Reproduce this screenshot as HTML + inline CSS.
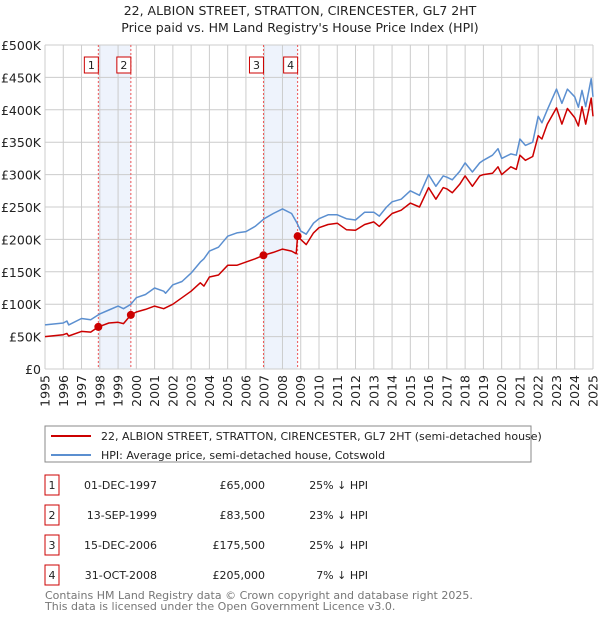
<!DOCTYPE html>
<html><head><meta charset="utf-8"><style>
body{margin:0;background:#fff;font-family:"Liberation Sans","DejaVu Sans",sans-serif;}
svg text{font-family:"DejaVu Sans","Liberation Sans",sans-serif;}
</style></head><body>
<svg id="c" width="600" height="620" viewBox="0 0 600 620" xmlns="http://www.w3.org/2000/svg">
<text x="300" y="15" text-anchor="middle" font-size="12.5" fill="#222">22, ALBION STREET, STRATTON, CIRENCESTER, GL7 2HT</text>
<text x="300" y="32" text-anchor="middle" font-size="12.5" fill="#222">Price paid vs. HM Land Registry's House Price Index (HPI)</text>
<g id="grid"></g><g id="marks"></g><g id="axes"></g>
<rect x="45" y="426" width="486" height="36" fill="#fff" stroke="#888"/>
<line x1="51" y1="436" x2="91" y2="436" stroke="#cc0000" stroke-width="2"/>
<text x="101" y="440" font-size="11" fill="#222">22, ALBION STREET, STRATTON, CIRENCESTER, GL7 2HT (semi-detached house)</text>
<line x1="51" y1="455" x2="91" y2="455" stroke="#5b8fd0" stroke-width="2"/>
<text x="101" y="459" font-size="11" fill="#222">HPI: Average price, semi-detached house, Cotswold</text>
<g id="table"></g>
<text x="45" y="599" font-size="11" fill="#777">Contains HM Land Registry data © Crown copyright and database right 2025.</text>
<text x="45" y="610" font-size="11" fill="#777">This data is licensed under the Open Government Licence v3.0.</text>
</svg>
<script>
const hpiYears=[1995,1996,1996.2,1996.3,1997,1997.5,1998,1998.5,1999,1999.3,1999.7,2000,2000.5,2001,2001.5,2001.6,2002,2002.5,2003,2003.5,2003.7,2004,2004.5,2005,2005.5,2006,2006.5,2007,2007.5,2008,2008.5,2008.8,2009,2009.3,2009.7,2010,2010.5,2011,2011.5,2012,2012.5,2013,2013.3,2013.7,2014,2014.5,2015,2015.5,2016,2016.4,2016.8,2017,2017.3,2017.7,2018,2018.4,2018.8,2019,2019.5,2019.8,2020,2020.5,2020.8,2021,2021.3,2021.7,2022,2022.2,2022.5,2023,2023.3,2023.6,2024,2024.2,2024.4,2024.6,2024.9,2025];
const hpiValues=[68,71,74,68,78,76,85,91,97,93,100,110,115,125,120,117,130,135,148,165,170,182,188,205,210,212,220,232,240,247,240,225,213,208,225,232,238,238,232,230,242,242,236,250,258,262,275,268,300,282,298,296,292,305,318,304,318,322,330,340,325,332,330,355,345,350,390,380,400,432,410,432,420,404,430,405,448,420];
const propYears=[1995,1996,1996.2,1996.3,1997,1997.5,1997.92,1998.5,1999,1999.3,1999.7,2000,2000.5,2001,2001.5,2002,2002.5,2003,2003.5,2003.7,2004,2004.5,2005,2005.5,2006,2006.5,2006.96,2007.5,2008,2008.5,2008.75,2008.83,2009,2009.3,2009.7,2010,2010.5,2011,2011.5,2012,2012.5,2013,2013.3,2013.7,2014,2014.5,2015,2015.5,2016,2016.4,2016.8,2017,2017.3,2017.7,2018,2018.4,2018.8,2019,2019.5,2019.8,2020,2020.5,2020.8,2021,2021.3,2021.7,2022,2022.2,2022.5,2023,2023.3,2023.6,2024,2024.2,2024.4,2024.6,2024.9,2025];
const propValues=[50,53,55,51,58,57,65,71,72,70,83.5,88,92,97,93,100,110,120,133,128,142,145,160,160,165,170,175.5,180,185,182,178,205,200,192,210,218,223,225,215,214,223,227,220,232,240,245,256,250,280,262,280,278,272,285,298,282,298,300,302,312,300,312,308,330,322,328,360,355,378,403,378,402,388,375,405,378,418,390];
const saleLabels=["1","2","3","4"];
const saleYears=[1997.92,1999.7,2006.96,2008.83];
const salePrices=[65,83.5,175.5,205];
const saleDates=["01-DEC-1997","13-SEP-1999","15-DEC-2006","31-OCT-2008"];
const salePriceText=["£65,000","£83,500","£175,500","£205,000"];
const saleHpiText=["25% ↓ HPI","23% ↓ HPI","25% ↓ HPI","7% ↓ HPI"];
const yTicks=[0,50,100,150,200,250,300,350,400,450,500];
const yTickLabels=["£0","£50K","£100K","£150K","£200K","£250K","£300K","£350K","£400K","£450K","£500K"];
const xTicks=[1995,1996,1997,1998,1999,2000,2001,2002,2003,2004,2005,2006,2007,2008,2009,2010,2011,2012,2013,2014,2015,2016,2017,2018,2019,2020,2021,2022,2023,2024,2025];
const NS="http://www.w3.org/2000/svg";
const X0=45,X1=593,Y0=369,Y1=45;
const xs=y=>X0+(y-1995)/30*(X1-X0);
const ys=v=>Y0-v/500*(Y0-Y1);
function mk(p,tag,at){const e=document.createElementNS(NS,tag);for(const k in at)e.setAttribute(k,at[k]);document.getElementById(p).appendChild(e);return e;}
for(let i=0;i<4;i+=2){const r=mk('grid','rect',{x:xs(saleYears[i]),y:Y1,width:xs(saleYears[i+1])-xs(saleYears[i]),height:Y0-Y1,fill:'#eef3fc'});

}
yTicks.forEach((t,i)=>{const l=mk('grid','line',{x1:X0,x2:X1,y1:ys(t),y2:ys(t),stroke:'#ccc','stroke-width':1});


const tx=mk('axes','text',{x:X0-4,y:ys(t)+5,'text-anchor':'end','font-size':'12.5',fill:'#222'});tx.textContent=yTickLabels[i];

});
xTicks.forEach(t=>{const l=mk('grid','line',{x1:xs(t),x2:xs(t),y1:Y1,y2:Y0,stroke:'#ccc','stroke-width':1});


const tx=mk('axes','text',{x:0,y:0,'text-anchor':'end','font-size':'12.5',fill:'#222',transform:`translate(${xs(t)+4.5},${Y0+6}) rotate(-90)`});tx.textContent=t;

});
saleYears.forEach((y,i)=>{const l=mk('marks','line',{x1:xs(y),x2:xs(y),y1:Y1,y2:Y0,stroke:'#e55','stroke-width':1,'stroke-dasharray':'2,2'});


const r=mk('marks','rect',{x:xs(y)-14,y:57,width:14,height:16,fill:'#fff',stroke:'#c00'});


const tx=mk('marks','text',{x:xs(y)-7,y:69,'text-anchor':'middle','font-size':'11',fill:'#222'});tx.textContent=saleLabels[i];

});
function line(xa,va,col,name){const d=xa.map((x,i)=>(i?'L':'M')+xs(x).toFixed(1)+','+ys(va[i]).toFixed(1)).join('');
const p=mk('marks','path',{d:d,fill:'none',stroke:col,'stroke-width':1.5,'stroke-linejoin':'round'});

}
line(hpiYears,hpiValues,'#5b8fd0','hpi-line');
line(propYears,propValues,'#cc0000','property-price-line');
saleYears.forEach((y,i)=>{const c=mk('marks','circle',{cx:xs(y),cy:ys(salePrices[i]),r:4,fill:'#cc0000'});

});
saleLabels.forEach((s,i)=>{const yy=475+i*30;
const r=mk('table','rect',{x:45,y:yy,width:14,height:20,fill:'#fff',stroke:'#c00'});


const cells=[[52,'middle',s],[157,'end',saleDates[i]],[265,'end',salePriceText[i]],[368,'end',saleHpiText[i]]];
cells.forEach(c=>{const t=mk('table','text',{x:c[0],y:yy+14,'text-anchor':c[1],'font-size':'11',fill:'#222'});t.textContent=c[2];

});});
</script>
</body></html>
